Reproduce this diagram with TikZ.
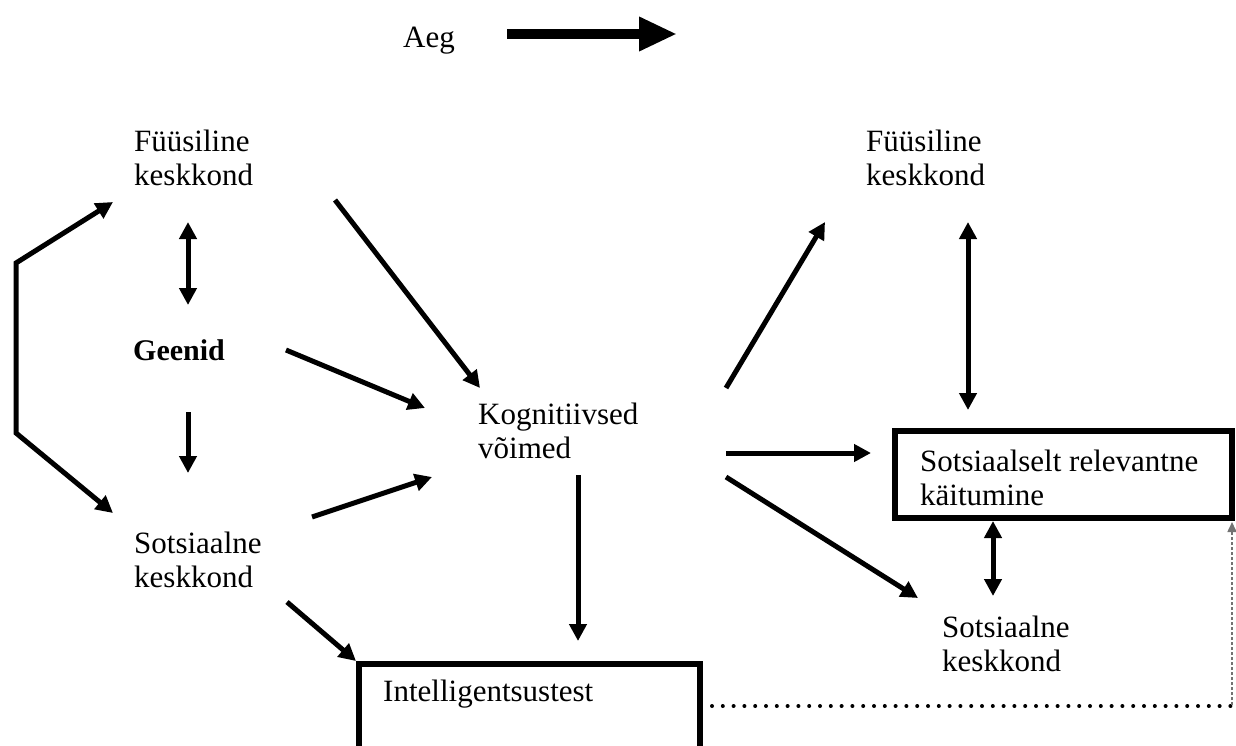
\documentclass[tikz,border=0pt]{standalone}
\usepackage{fontspec}
\setmainfont{Liberation Serif}
\usetikzlibrary{arrows.meta}
\begin{document}
\begin{tikzpicture}[x=1pt,y=-1pt,
  lbl/.style={inner sep=0pt, anchor=base west, align=left, font=\fontsize{31}{34}\selectfont},
  arr/.style={line width=5pt, -{Triangle[length=17pt,width=17pt]}},
  darr/.style={line width=5pt, {Triangle[length=17pt,width=17pt]}-{Triangle[length=17pt,width=17pt]}},
  boxn/.style={draw, line width=6pt, inner sep=0pt, outer sep=0pt, anchor=north west},
  dotline/.style={line width=4pt, line cap=round, dash pattern=on 0pt off 10.8pt}
]
\clip (0,0) rectangle (1236,745);
\fill[white] (0,0) rectangle (1236,745);

% nodes (anchor = baseline of the last line)
\node[lbl] (aeg) at (403,47) {Aeg};
\node[lbl] (fl) at (134,185) {Füüsiline\\keskkond};
\node[lbl, font=\fontsize{30}{34}\selectfont\bfseries] (gen) at (133,360) {Geenid};
\node[lbl] (sl) at (134,587) {Sotsiaalne\\keskkond};
\node[lbl] (kog) at (478,458) {Kognitiivsed\\võimed};
\node[boxn, minimum width=341pt, minimum height=92pt] (itbox) at (359,664) {};
\node[lbl] (it) at (383,701) {Intelligentsustest};
\node[lbl] (fr) at (866,185) {Füüsiline\\keskkond};
\node[boxn, minimum width=337pt, minimum height=87pt] (srkbox) at (895,431) {};
\node[lbl] (srk) at (920,505) {Sotsiaalselt relevantne\\käitumine};
\node[lbl] (sr) at (942,671) {Sotsiaalne\\keskkond};

\coordinate (bt) at (16,263);
\coordinate (bb) at (16,433);

% time arrow
\draw[line width=10.5pt, -{Triangle[length=38pt,width=32pt]}]
  ([shift={(104,-13)}]aeg.base west) -- ([shift={(274,-13)}]aeg.base west);

% left bracket
\draw[darr, line join=miter] ([shift={(-21,17)}]fl.base west) -- (bt) -- (bb) -- ([shift={(-21,-74)}]sl.base west);

% connectors
\draw[darr] ([shift={(54,37)}]fl.base west) -- ([shift={(55,-55)}]gen.base west);
\draw[arr] ([shift={(55,52)}]gen.base west) -- ([shift={(54,-114)}]sl.base west);
\draw[arr] ([shift={(201,15)}]fl.base west) -- ([shift={(2,-70)}]kog.base west);
\draw[arr] ([shift={(153,-10)}]gen.base west) -- ([shift={(-53,-50)}]kog.base west);
\draw[arr] ([shift={(178,-70)}]sl.base west) -- ([shift={(-46,19)}]kog.base west);
\draw[arr] ([shift={(153,15)}]sl.base west) -- ([shift={(-3,-3)}]itbox.north west);
\draw[arr] ([shift={(100,17)}]kog.base west) -- ([shift={(219,-23)}]itbox.north west);
\draw[arr] ([shift={(248,-70)}]kog.base west) -- ([shift={(-41,37)}]fr.base west);
\draw[arr] ([shift={(248,-5)}]kog.base west) -- ([shift={(-24,22)}]srkbox.north west);
\draw[arr] ([shift={(248,19)}]kog.base west) -- ([shift={(-24,-73)}]sr.base west);
\draw[darr] ([shift={(102,37)}]fr.base west) -- ([shift={(73,-21)}]srkbox.north west);
\draw[darr] ([shift={(98,3)}]srkbox.south west) -- ([shift={(51,-75)}]sr.base west);

% dotted link
\draw[dotline] ([shift={(12,-4)}]itbox.east) -- ([shift={(532,-4)}]itbox.east);
\draw[black!55, line width=1.6pt, dash pattern=on 3pt off 2pt, -{Triangle[length=10pt,width=9pt]}]
  ([shift={(0,187)}]srkbox.south east) -- ([shift={(0,4)}]srkbox.south east);
\end{tikzpicture}
\end{document}
